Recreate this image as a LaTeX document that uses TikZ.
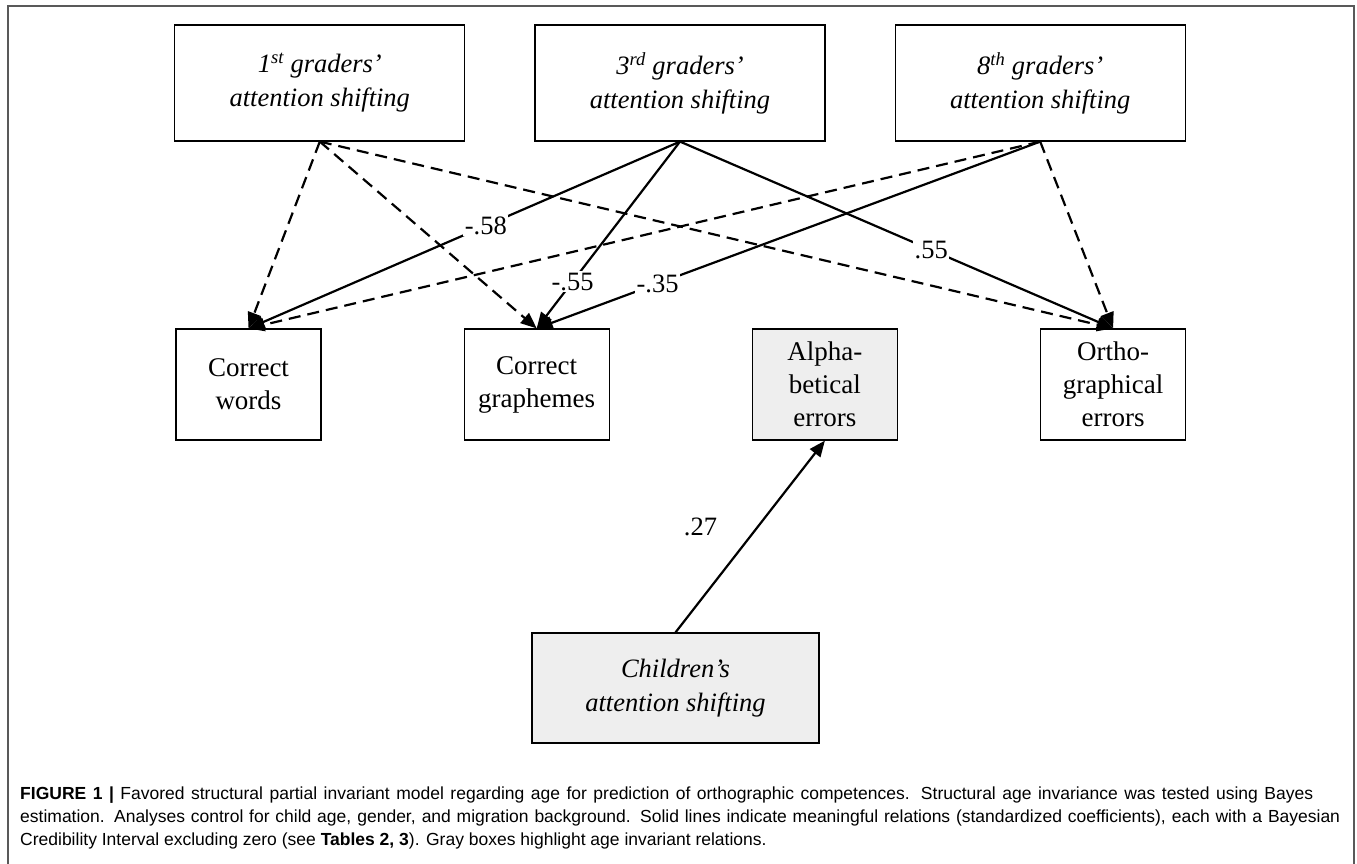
\documentclass[tikz,border=0pt]{standalone}
\usepackage{fontspec}
\setmainfont{Liberation Serif}
\newfontfamily\captionfont{Liberation Sans}
\usetikzlibrary{arrows.meta, positioning}

\begin{document}
\begin{tikzpicture} [
        x = 1pt, y = -1pt,
        node distance = 69pt,
        font = \fontsize{26}{32}\selectfont,
        predictor/.style = {rectangle, draw, line width=1.2pt, minimum width=290pt, minimum height=116pt, align=center, font=\fontsize{26.5}{34}\selectfont\itshape},
        outcome/.style = {rectangle, draw, line width=1.2pt, minimum width=145pt, minimum height=111pt, align=center, font=\fontsize{27}{33}\selectfont},
        invariant/.style = {fill=gray!13},
        sig/.style = {draw, line width=2.2pt, -{Triangle[length=16pt, width=13pt]}},
        nonsig/.style = {sig, dash pattern=on 12pt off 7pt},
        coef/.style = {fill=white, inner sep=1.5pt, font=\fontsize{26.5}{26}\selectfont},
        captext/.style = {anchor=base west, inner sep=0pt, font=\captionfont\fontsize{17.5}{23}\selectfont}
    ]

    \useasboundingbox (0,0) rectangle (1357,864);
    \draw[gray!70!black, line width=1.5pt] (8,864) -- (8,6) -- (1354,6) -- (1354,864);

    % predictors
    \node[predictor] (third) at (680,83) {3\textsuperscript{rd} graders’\\attention shifting};
    \node[predictor, left = of third] (first) {1\textsuperscript{st} graders’\\attention shifting};
    \node[predictor, right = of third] (eighth) {8\textsuperscript{th} graders’\\attention shifting};

    % outcomes
    \node[outcome] (words) at (248.5,384.5) {Correct\\words};
    \node[outcome, right = 142pt of words] (graphemes) {Correct\\graphemes};
    \node[outcome, invariant, right = 142pt of graphemes] (alpha) {Alpha-\\betical\\errors};
    \node[outcome, right = 142pt of alpha] (ortho) {Ortho-\\graphical\\errors};

    \node[predictor, invariant, minimum width=287pt, minimum height=110pt] (children) at (675.5,688) {Children’s\\attention shifting};

    % paths
    \path[nonsig] (first.south) -- (words.north);
    \path[nonsig] (first.south) -- (graphemes.north);
    \path[nonsig] (first.south) -- (ortho.north);
    \path[sig] (third.south) -- node[coef, pos=0.45] {-.58} (words.north);
    \path[sig] (third.south) -- node[coef, pos=0.75] {-.55} (graphemes.north);
    \path[sig] (third.south) -- node[coef, pos=0.58] {.55} (ortho.north);
    \path[nonsig] (eighth.south) -- (words.north);
    \path[sig] (eighth.south) -- node[coef, pos=0.76] {-.35} (graphemes.north);
    \path[nonsig] (eighth.south) -- (ortho.north);
    \path[sig] (children.north) -- node[coef, pos=0.55, left=38pt] {.27} (alpha.south);

    % caption
    \node[captext] (cap1) at (20,799) {\makebox[1293pt][s]{\textbf{FIGURE 1 |} Favored structural partial invariant model regarding age for prediction of orthographic competences. Structural age invariance was tested using Bayes}};
    \node[captext] (cap2) at (20,822) {\makebox[1320pt][s]{estimation. Analyses control for child age, gender, and migration background. Solid lines indicate meaningful relations (standardized coefficients), each with a Bayesian}};
    \node[captext] (cap3) at (20,845) {Credibility Interval excluding zero (see \textbf{Tables 2, 3}). Gray boxes highlight age invariant relations.};

\end{tikzpicture}
\end{document}
